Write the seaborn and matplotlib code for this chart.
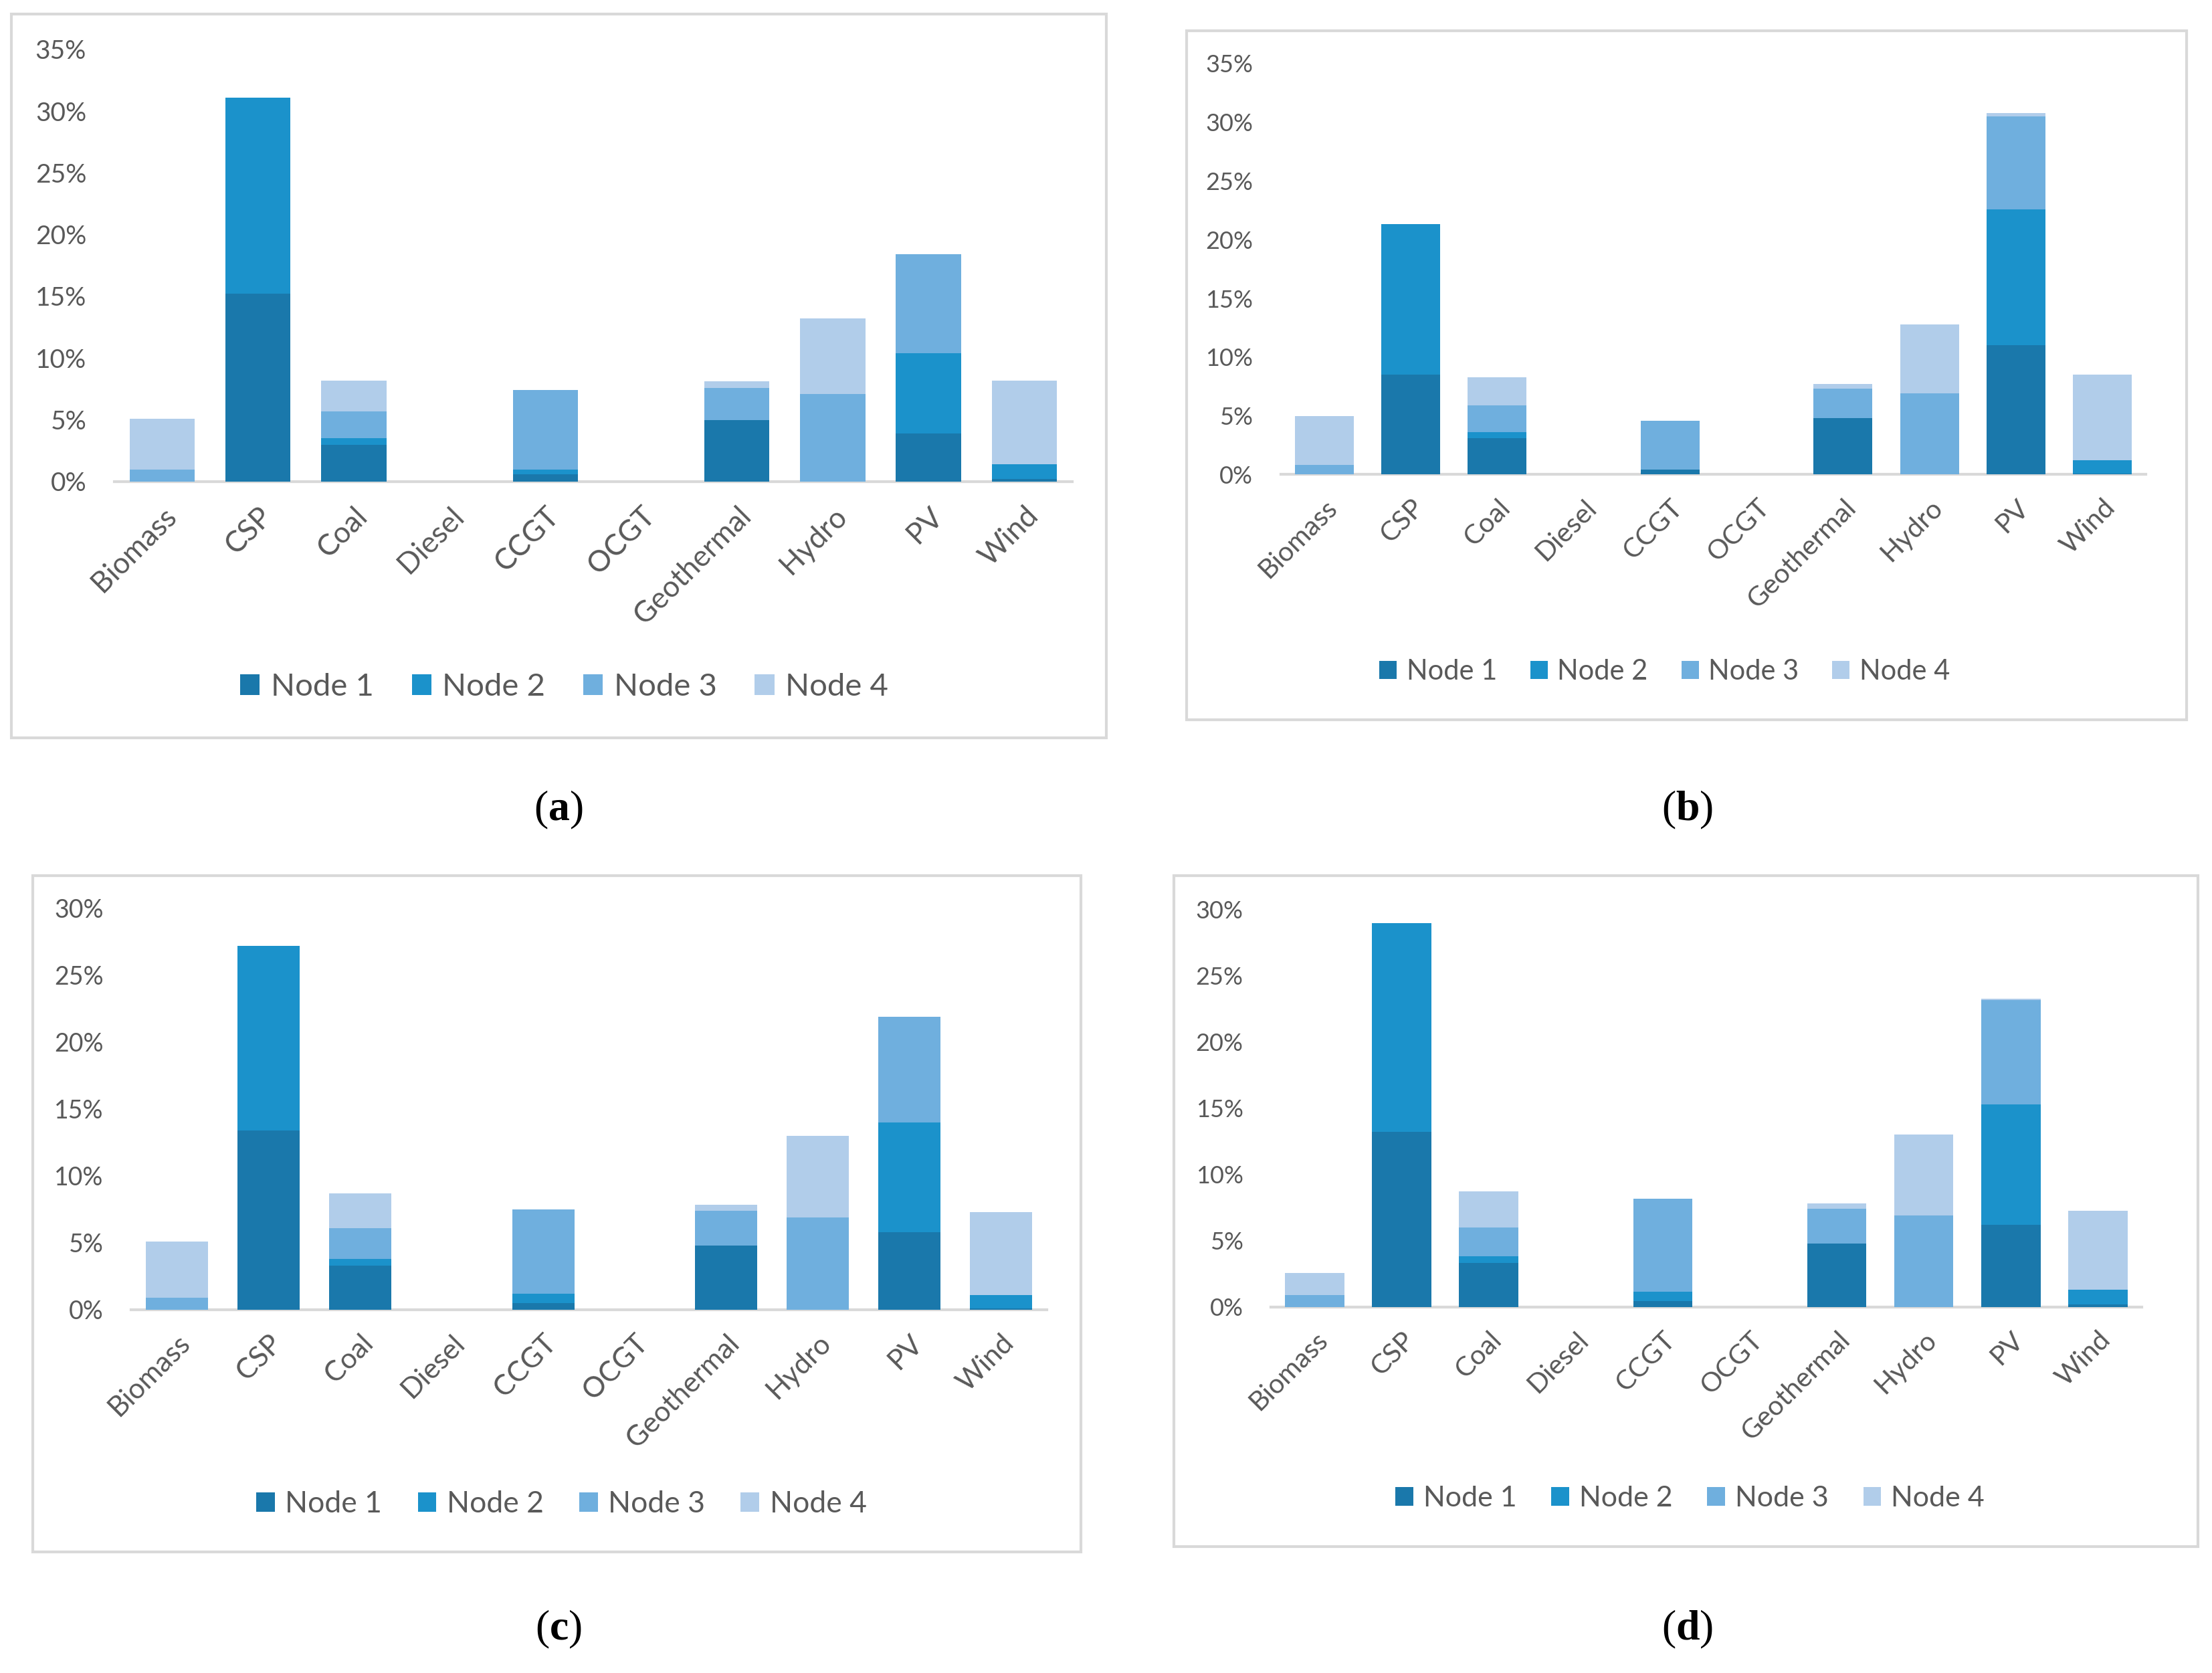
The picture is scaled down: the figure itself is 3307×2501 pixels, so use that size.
import numpy as np
import pandas as pd
import matplotlib
matplotlib.use("Agg")
import matplotlib.pyplot as plt
import seaborn as sns
from matplotlib.patches import Patch, Rectangle

# ---------------- data ----------------
CATEGORIES = ["Biomass", "CSP", "Coal", "Diesel", "CCGT", "OCGT",
              "Geothermal", "Hydro", "PV", "Wind"]
NODES = ["Node 1", "Node 2", "Node 3", "Node 4"]
NODE_COLORS = ["#1a78ab", "#1b92cb", "#6fafde", "#b1cdea"]

A_NODE1 = [0, 15.2, 3.0, 0, 0.6, 0, 5.0, 0, 3.9, 0.2]
A_NODE2 = [0, 15.9, 0.5, 0, 0.4, 0, 0, 0, 6.5, 1.2]
A_NODE3 = [1.0, 0, 2.2, 0, 6.4, 0, 2.6, 7.1, 8.0, 0]
A_NODE4 = [4.1, 0, 2.5, 0, 0, 0, 0.5, 6.1, 0, 6.8]

B_NODE1 = [0, 8.5, 3.1, 0, 0.4, 0, 4.8, 0, 11.0, 0.1]
B_NODE2 = [0, 12.8, 0.5, 0, 0, 0, 0, 0, 11.6, 1.1]
B_NODE3 = [0.8, 0, 2.3, 0, 4.2, 0, 2.5, 6.9, 7.9, 0]
B_NODE4 = [4.2, 0, 2.4, 0, 0, 0, 0.4, 5.9, 0.3, 7.3]

C_NODE1 = [0, 13.4, 3.3, 0, 0.5, 0, 4.8, 0, 5.8, 0.1]
C_NODE2 = [0, 13.8, 0.5, 0, 0.7, 0, 0, 0, 8.2, 1.0]
C_NODE3 = [0.9, 0, 2.3, 0, 6.3, 0, 2.6, 6.9, 7.9, 0]
C_NODE4 = [4.2, 0, 2.6, 0, 0, 0, 0.45, 6.1, 0, 6.2]

D_NODE1 = [0, 13.2, 3.3, 0, 0.45, 0, 4.8, 0, 6.2, 0.2]
D_NODE2 = [0, 15.8, 0.5, 0, 0.7, 0, 0, 0, 9.1, 1.1]
D_NODE3 = [0.9, 0, 2.2, 0, 7.0, 0, 2.6, 6.9, 7.9, 0]
D_NODE4 = [1.65, 0, 2.7, 0, 0, 0, 0.4, 6.1, 0.1, 5.95]

PANEL_LABELS = ["a", "b", "c", "d"]
Y_MAX = [35, 35, 30, 30]

# ---------------- style ----------------
sns.set_theme(style="white")
plt.rcParams["font.family"] = ["Lato", "DejaVu Sans"]
plt.rcParams["mathtext.fontset"] = "custom"
plt.rcParams["mathtext.rm"] = "Liberation Serif"
plt.rcParams["mathtext.bf"] = "Liberation Serif:bold"

TXT = "#595959"
GRID = "#d9d9d9"
W, H = 1568.0, 1188.0  # layout reference units

fig = plt.figure(figsize=(33.07, 25.01), dpi=100)
fig.patch.set_facecolor("white")

def fx(x):
    return x / W

def fy(y):
    return 1 - y / H

# layout (reference units): axes x-range, y of 0 and of ymax, border box, legend center, label pos
layouts = [
    dict(ax=(81, 760, 342, 35), box=(8, 784, 10, 524), leg=(400, 488), lab=(396, 575), fs=28, lfs=34),
    dict(ax=(908, 1521, 337, 45), box=(841, 1550, 22, 511), leg=(1180, 477), lab=(1196, 575), fs=26, lfs=30),
    dict(ax=(93, 742, 930, 645), box=(23, 766, 622, 1102), leg=(398, 1068), lab=(396, 1157), fs=27, lfs=32),
    dict(ax=(901, 1518, 928, 646), box=(832, 1558, 622, 1098), leg=(1198, 1064), lab=(1196, 1157), fs=26, lfs=31),
]

panels = [
    [A_NODE1, A_NODE2, A_NODE3, A_NODE4],
    [B_NODE1, B_NODE2, B_NODE3, B_NODE4],
    [C_NODE1, C_NODE2, C_NODE3, C_NODE4],
    [D_NODE1, D_NODE2, D_NODE3, D_NODE4],
]

for p, (series, lay, ymax, lab) in enumerate(zip(panels, layouts, Y_MAX, PANEL_LABELS)):
    x0, x1, y0, y1 = lay["ax"]
    ax = fig.add_axes([fx(x0), fy(y0), fx(x1) - fx(x0), fy(y1) - fy(y0)])
    ax.set_facecolor("none")

    vals = np.array(series, dtype=float)
    cum = np.cumsum(vals, axis=0)
    # draw from the top layer down so lower layers overlay
    for k in range(len(NODES) - 1, -1, -1):
        df = pd.DataFrame({"cat": CATEGORIES, "val": cum[k]})
        sns.barplot(data=df, x="cat", y="val", order=CATEGORIES, color=NODE_COLORS[k],
                    saturation=1, width=0.68, ax=ax, linewidth=0, errorbar=None)

    ax.set_ylim(0, ymax)
    ax.set_xlim(-0.5, len(CATEGORIES) - 0.5)
    ax.set_xlabel("")
    ax.set_ylabel("")
    for s in ["top", "right", "left"]:
        ax.spines[s].set_visible(False)
    ax.spines["bottom"].set_color(GRID)
    ax.spines["bottom"].set_linewidth(3)
    ax.spines["bottom"].set_zorder(0.5)
    ticks = list(range(0, ymax + 1, 5))
    ax.set_yticks(ticks)
    ax.set_yticklabels([f"{t}%" for t in ticks], color=TXT, fontsize=lay["fs"])
    ax.tick_params(axis="y", length=0, pad=30)
    ax.tick_params(axis="x", length=0, pad=22)
    ax.set_xticks(range(len(CATEGORIES)))
    ax.set_xticklabels(CATEGORIES, rotation=45, ha="right", rotation_mode="anchor",
                       color=TXT, fontsize=lay["fs"] * 1.13)
    for t in ax.get_xticklabels():
        t.set_x(t.get_position()[0])
    ax.grid(False)

    # border box
    bx0, bx1, by0, by1 = lay["box"]
    fig.patches.append(Rectangle((fx(bx0), fy(by1)), fx(bx1) - fx(bx0), fy(by0) - fy(by1),
                                 transform=fig.transFigure, fill=False, edgecolor=GRID,
                                 linewidth=3, zorder=0))

    # legend
    handles = [Patch(facecolor=c, edgecolor="none", label=n) for c, n in zip(NODE_COLORS, NODES)]
    lx, ly = lay["leg"]
    fig.legend(handles=handles, loc="center", bbox_to_anchor=(fx(lx), fy(ly)), ncol=4,
               frameon=False, fontsize=lay["lfs"], labelcolor=TXT, handlelength=0.62,
               handleheight=0.62, handletextpad=0.35, columnspacing=1.2)

    # panel label
    tx, ty = lay["lab"]
    fig.text(fx(tx), fy(ty), r"($\mathbf{" + lab + r"}$)", ha="center", va="center",
             fontsize=46, family="Liberation Serif", color="black")

fig.savefig("out.png", dpi=100, facecolor="white")
